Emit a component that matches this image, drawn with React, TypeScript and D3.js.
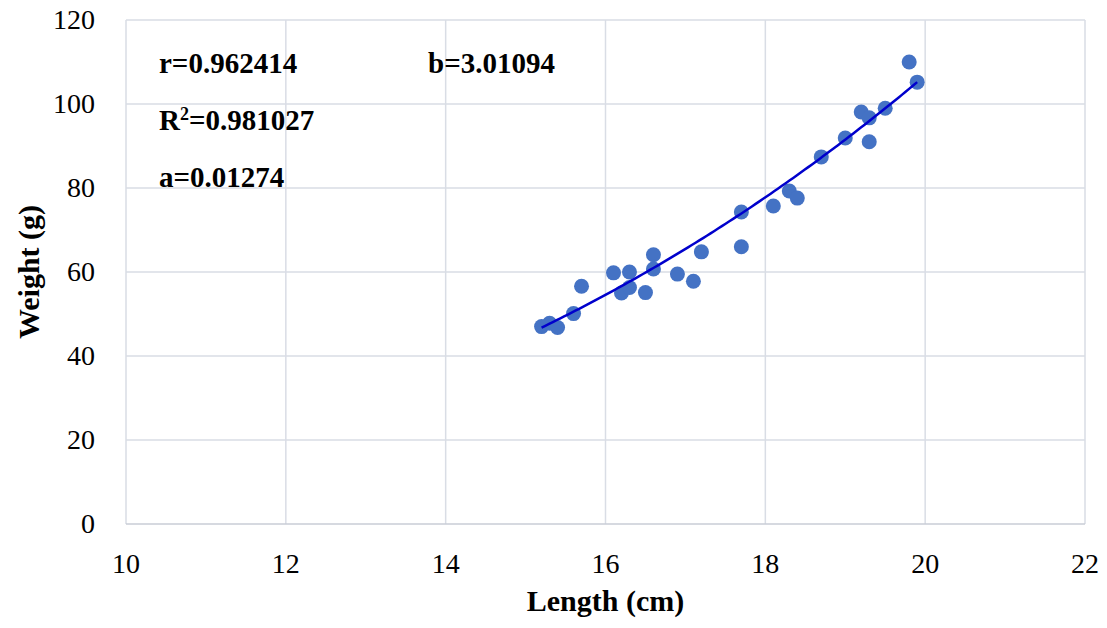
import React, { useRef, useEffect } from "react";
import * as d3 from "d3";

// length (cm) and weight (g) of each fish
const lengths = [
  15.2, 15.3, 15.4, 15.6, 15.7, 16.1, 16.2, 16.3, 16.3, 16.5, 16.6, 16.6, 16.9, 17.1,
  17.2, 17.7, 17.7, 18.1, 18.3, 18.4, 18.7, 19.0, 19.2, 19.3, 19.3, 19.5, 19.8, 19.9,
];
const weights = [
  47.0, 47.8, 46.8, 50.1, 56.6, 59.8, 55.0, 60.0, 56.3, 55.1, 64.1, 60.7, 59.5, 57.8,
  64.8, 74.3, 66.0, 75.7, 79.3, 77.6, 87.4, 91.9, 98.1, 96.7, 91.0, 99.0, 110.0, 105.2,
];
// power trendline W = a * L^b as drawn in the picture
const trendA = 0.01296;
const trendB = 3.0099;
const xTicks = [10, 12, 14, 16, 18, 20, 22];
const yTicks = [0, 20, 40, 60, 80, 100, 120];
const statsLeft = ["r=0.962414", "R2=0.981027", "a=0.01274"];
const statsRight = ["b=3.01094"];

const W = 1107;
const H = 628;
const margin = { top: 20, right: 22, bottom: 104, left: 126 };

export default function App() {
  const svgRef = useRef<SVGSVGElement>(null);

  useEffect(() => {
    document.body.style.margin = "0";
    const svg = d3.select(svgRef.current);
    svg.selectAll("*").remove();

    const x = d3.scaleLinear().domain([10, 22]).range([margin.left, W - margin.right]);
    const y = d3.scaleLinear().domain([0, 120]).range([H - margin.bottom, margin.top]);

    const grid = "#d9dde5";
    const font = "'Liberation Serif', 'Times New Roman', serif";

    // grid lines
    svg.append("g")
      .selectAll("line")
      .data(yTicks.slice(1))
      .join("line")
      .attr("x1", x(10)).attr("x2", x(22))
      .attr("y1", (d) => y(d)).attr("y2", (d) => y(d))
      .attr("stroke", grid).attr("stroke-width", 1.5);
    svg.append("g")
      .selectAll("line")
      .data(xTicks)
      .join("line")
      .attr("x1", (d) => x(d)).attr("x2", (d) => x(d))
      .attr("y1", y(0)).attr("y2", y(120))
      .attr("stroke", grid).attr("stroke-width", 1.5);
    // axis line at 0
    svg.append("line")
      .attr("x1", x(10)).attr("x2", x(22))
      .attr("y1", y(0)).attr("y2", y(0))
      .attr("stroke", "#c8ccd6").attr("stroke-width", 1.5);

    // tick labels
    svg.append("g")
      .selectAll("text")
      .data(yTicks)
      .join("text")
      .attr("x", margin.left - 31)
      .attr("y", (d) => y(d) + 9)
      .attr("text-anchor", "end")
      .attr("font-family", font)
      .attr("font-size", 28)
      .text((d) => d);
    svg.append("g")
      .selectAll("text")
      .data(xTicks)
      .join("text")
      .attr("x", (d) => x(d))
      .attr("y", y(0) + 49)
      .attr("text-anchor", "middle")
      .attr("font-family", font)
      .attr("font-size", 28)
      .text((d) => d);

    // axis titles
    svg.append("text")
      .attr("x", (x(10) + x(22)) / 2)
      .attr("y", 611)
      .attr("text-anchor", "middle")
      .attr("font-family", font)
      .attr("font-weight", "bold")
      .attr("font-size", 30)
      .text("Length (cm)");
    svg.append("text")
      .attr("transform", `translate(39,${(y(0) + y(120)) / 2}) rotate(-90)`)
      .attr("text-anchor", "middle")
      .attr("font-family", font)
      .attr("font-weight", "bold")
      .attr("font-size", 30)
      .text("Weight (g)");

    const [lmin, lmax] = d3.extent(lengths) as [number, number];
    const curve = d3.range(0, 101).map((i) => {
      const l = lmin + ((lmax - lmin) * i) / 100;
      return [l, trendA * Math.pow(l, trendB)] as [number, number];
    });

    // points
    svg.append("g")
      .selectAll("circle")
      .data(lengths)
      .join("circle")
      .attr("cx", (d) => x(d))
      .attr("cy", (d, i) => y(weights[i]))
      .attr("r", 7.5)
      .attr("fill", "#4472c4");

    svg.append("path")
      .datum(curve)
      .attr("d", d3.line<[number, number]>().x((d) => x(d[0])).y((d) => y(d[1])))
      .attr("fill", "none")
      .attr("stroke", "#0000cc")
      .attr("stroke-width", 2.5);

    // stats text
    const statY = [73, 130, 187];
    statsLeft.forEach((s, i) => {
      const t = svg.append("text")
        .attr("x", 159)
        .attr("y", statY[i])
        .attr("font-family", font)
        .attr("font-weight", "bold")
        .attr("font-size", 29);
      if (s.startsWith("R2")) {
        t.append("tspan").text("R");
        t.append("tspan").attr("font-size", 18).attr("dy", -10).text("2");
        t.append("tspan").attr("dy", 10).text(s.slice(2));
      } else {
        t.text(s);
      }
    });
    statsRight.forEach((s, i) => {
      svg.append("text")
        .attr("x", 428)
        .attr("y", statY[i])
        .attr("font-family", font)
        .attr("font-weight", "bold")
        .attr("font-size", 29)
        .text(s);
    });
  }, []);

  return <svg ref={svgRef} width={W} height={H} style={{ display: "block", background: "#fff" }} />;
}
